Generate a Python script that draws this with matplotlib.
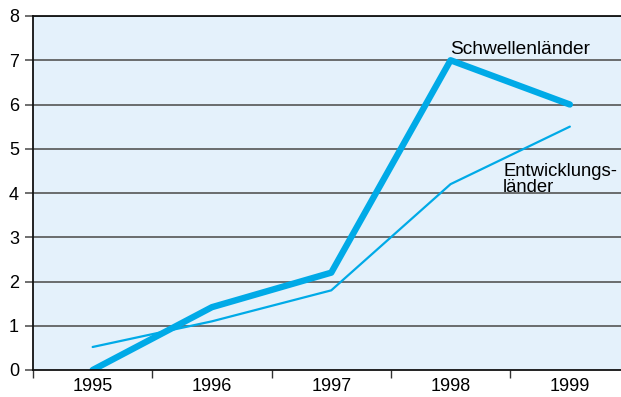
import matplotlib
matplotlib.use("Agg")
import matplotlib.pyplot as plt

years = ["1995", "1996", "1997", "1998", "1999"]
schwellen = [0.0, 1.42, 2.2, 7.0, 6.0]
entwicklung = [0.52, 1.1, 1.8, 4.2, 5.5]
yticks = [0, 1, 2, 3, 4, 5, 6, 7, 8]

plt.rcParams['font.family'] = ['Liberation Sans', 'DejaVu Sans']

fig = plt.figure(figsize=(6.21, 3.97), dpi=100)
ax = fig.add_axes([33/621, 1-370/397, 1-33/621, (370-16)/397])
ax.set_facecolor('#e4f1fb')
col = '#00aae7'
x = list(range(len(years)))
ax.plot(x, entwicklung, color=col, lw=1.6, solid_capstyle='round', zorder=3)
ax.plot(x, schwellen, color=col, lw=4.6, solid_capstyle='round', solid_joinstyle='round', zorder=4)

ax.set_yticks(yticks)
ax.set_yticklabels([str(v) for v in yticks], fontsize=13)
for v in yticks[1:]:
    ax.axhline(v, color='#555555', lw=1.2, zorder=1)
ax.set_xticks([i - 0.5 for i in range(len(years) + 1)])
ax.set_xticklabels([])
ax.set_xticks(x, minor=True)
ax.set_xticklabels(years, minor=True, fontsize=13)
ax.set_xlim(-0.5, (621-33)/119.3 - 0.5)
ax.set_ylim(0, 8)
ax.tick_params(axis='x', which='minor', length=0, pad=6)
ax.tick_params(axis='x', which='major', length=6, width=1, color='#333333')
ax.tick_params(axis='y', length=6, width=1.2, color='#555555', pad=4)
for s in ['left', 'bottom', 'top']:
    ax.spines[s].set_color('#111111')
    ax.spines[s].set_linewidth(1.3)
ax.spines['right'].set_visible(False)
ax.spines['bottom'].set_zorder(5)

ax.text(3.0, 7.14, "Schwellenländer", fontsize=13.8, ha='left', va='baseline', zorder=6)
ax.text(3.44, 4.02, "Entwicklungs-\nländer", fontsize=13.3, ha='left', va='baseline',
        linespacing=0.9, zorder=6)

fig.savefig("out.png", dpi=100)
